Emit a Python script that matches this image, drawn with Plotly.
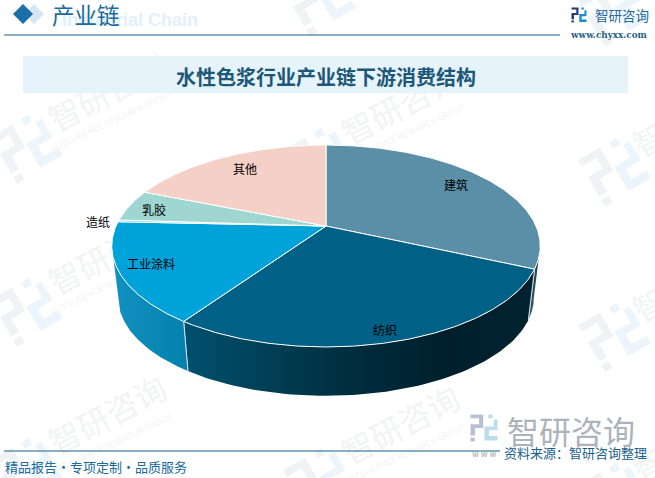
import numpy as np
import plotly.graph_objects as go

# ---- data ----
categories = ["建筑", "纺织", "工业涂料", "造纸", "乳胶", "其他"]
shares = [31.7, 27.9, 16.1, 0.3, 5.1, 18.9]
top_colors = ["#5b8fa8", "#006085", "#00a2da", "#6cc7e8", "#a0d6d2", "#f5d0c7"]
side_grad = [["#3b5f70", "#1f3a47"],
             ["#00506f", "#003e55", "#002c3c", "#001f2c", "#00222f"],
             ["#1192c2", "#0480ac"],
             ["#4aa5c5", "#4aa5c5"], ["#7fb0ad", "#7fb0ad"], ["#c9aaa3", "#c9aaa3"]]
label_xy = {"建筑": (456, 184), "纺织": (385, 329), "工业涂料": (151, 263),
            "造纸": (98, 221), "乳胶": (154, 209), "其他": (245, 168)}

# ---- perspective disc geometry ----
K = 0.198
def project(theta_deg, r=1.0, cx=326.0, cy=226.0, R=210.0, A=97.0):
    t = np.radians(theta_deg)
    u, v = r * np.sin(t), r * np.cos(t)
    w = 1 + K * v
    return cx + R * u / w, cy - A * v / w
def project_low(theta_deg):
    return project(theta_deg, 1.0, 326.0, 278.6, 203.7, 94.0)

edges = np.concatenate([[0], np.cumsum(shares) * 3.6])
fig = go.Figure()

# sides: only the part between the silhouette's left and right extremes is visible
SIDE_FROM = float(np.degrees(np.arccos(-K)))
SIDE_TO = 360.0 - SIDE_FROM
for i, c in enumerate(categories):
    a, b = max(edges[i], SIDE_FROM), min(edges[i + 1], SIDE_TO)
    if b <= a:
        continue
    th = np.linspace(a, b, 80)
    xt, yt = project(th)
    xb, yb = project_low(th[::-1])
    g = side_grad[i]
    fig.add_trace(go.Scatter(
        x=np.r_[xt, xb, xt[0]], y=np.r_[yt, yb, yt[0]], mode="lines", fill="toself",
        line=dict(width=0, color="rgba(0,0,0,0)"),
        fillgradient=dict(type="horizontal",
                          colorscale=[[j / (len(g) - 1), col] for j, col in enumerate(g)]),
        hoverinfo="skip", showlegend=False))
    for e in (edges[i], edges[i + 1]):
        if SIDE_FROM < e < SIDE_TO:
            x0, y0 = project(e)
            x1, y1 = project_low(e)
            fig.add_trace(go.Scatter(x=[x0, x1], y=[y0, y1], mode="lines",
                                     line=dict(color="rgba(225,235,240,0.85)", width=1),
                                     hoverinfo="skip", showlegend=False))
# top slices
for i, c in enumerate(categories):
    th = np.linspace(edges[i], edges[i + 1], 160)
    x, y = project(th)
    ax, ay = project(0.0, 0.0)
    fig.add_trace(go.Scatter(
        x=np.r_[ax, x, ax], y=np.r_[ay, y, ay], mode="lines", fill="toself",
        fillcolor=top_colors[i], line=dict(color="white", width=1),
        hoverinfo="skip", showlegend=False, name=c))

# ---- decorations ----
shapes, ann = [], []

def logo_paths(cx, cy, size, angle):
    a = np.radians(angle)
    def P(pts):
        out = []
        for j, (px, py) in enumerate(pts):
            lx, ly = (px - .5) * size, (py - .5) * size
            X = cx + lx * np.cos(a) - ly * np.sin(a)
            Y = cy + lx * np.sin(a) + ly * np.cos(a)
            out.append(("M" if j == 0 else "L") + f"{X:.1f},{Y:.1f}")
        return " ".join(out) + " Z"
    left = [[(0, 0), (.47, 0), (.47, .5), (.17, .5), (.17, .78), (0, .78), (0, .36), (.32, .36), (.32, .14), (0, .14)],
            [(0, .86), (.16, .86), (.16, 1), (0, 1)]]
    right = [[(.66, 0), (.82, 0), (.82, .14), (.66, .14)],
             [(.86, .18), (1, .18), (1, .58), (.68, .58), (.68, .8), (1, .8), (1, .96), (.52, .96), (.52, .44), (.86, .44)]]
    return [P(p) for p in left], [P(p) for p in right]

def add_logo(cx, cy, size, angle, c1, c2, layer="below"):
    l, r = logo_paths(cx, cy, size, angle)
    for p in l:
        shapes.append(dict(type="path", path=p, fillcolor=c1, line_width=0, layer=layer))
    for p in r:
        shapes.append(dict(type="path", path=p, fillcolor=c2, line_width=0, layer=layer))

def wm_text(cx, cy, text, size, color, angle=-28):
    shapes.append(dict(type="rect", x0=cx - 1, x1=cx + 1, y0=cy - 1, y1=cy + 1, line_width=0,
                       fillcolor="rgba(0,0,0,0)", layer="below",
                       label=dict(text=text, textangle=angle, textposition="middle center",
                                  font=dict(size=size, color=color, family="Noto Sans CJK SC"))))

for lx, ly in [(27, 147), (27, 310), (27, 470), (320, 0), (320, 160), (320, 320), (320, 480),
               (615, 10), (615, 170), (615, 335), (615, 495)]:
    add_logo(lx, ly, 54, -30, "#eff3f6", "#ebf5fb")
    if lx < 600 and ly > 50:
        wm_text(lx + 82, ly - 52, "智研咨询", 32, "#f2f3f5")
        wm_text(lx + 84, ly - 25, "INTELLIGENCE RESEARCH GROUP", 8.5, "#f2f3f5", -25)
    elif lx > 600:
        wm_text(lx + 36, ly - 27, "智", 32, "#f2f3f5")

# title band
shapes.append(dict(type="rect", x0=23, x1=628, y0=56, y1=93, fillcolor="#e6f3fb", line_width=0, layer="below"))
# header
shapes.append(dict(type="path", path="M34,4 L44,14 L34,24 L24,14 Z", fillcolor="#d5e6f2", line_width=0, layer="below"))
shapes.append(dict(type="path", path="M23,4 L33,14 L23,24 L13,14 Z", fillcolor="#1a6fa8", line_width=0, layer="below"))
shapes.append(dict(type="line", x0=4, x1=560, y0=35, y1=35, line=dict(color="#1b5f85", width=1), layer="below"))
shapes.append(dict(type="line", x0=4, x1=500, y0=451, y1=451, line=dict(color="#1b5f85", width=1), layer="below"))
add_logo(579, 15, 15, 0, "#25397f", "#1f8ad2")
add_logo(484, 428, 27, 0, "#b7c0d4", "#bcdcf0")

def T(x, y, s, size, color, family="Noto Sans CJK SC", anchor="center", bold=False):
    ann.append(dict(x=x, y=y, text=f"<b>{s}</b>" if bold else s, showarrow=False, xanchor=anchor,
                    yanchor="middle", xref="x", yref="y",
                    font=dict(size=size, color=color, family=family)))

T(60, 20, "Industrial Chain", 18, "#e2f0fa", "Liberation Sans", "left", True)
T(50, 14, "产业链", 22.5, "#1a6a9c", anchor="left")
T(593, 15, "智研咨询", 13.5, "#1f6a9a", anchor="left")
T(609, 35, "www.chyxx.com", 8.8, "#1f5f85", "DejaVu Serif", bold=True)
T(325.5, 76, "水性色浆行业产业链下游消费结构", 20, "#1d5878", bold=True)
T(3, 466, "精品报告·专项定制·品质服务", 13, "#1a6a9c", anchor="left")
T(571, 430, "智研咨询", 32, "#adb3ba")
T(470, 453, "w w w", 8, "#b9bec4", anchor="left", bold=True)
T(575, 452, "资料来源：智研咨询整理", 13, "#1a5f8a")
for c in categories:
    lx, ly = label_xy[c]
    T(lx, ly, c, 12, "#000000")

fig.update_layout(
    width=655, height=478, margin=dict(l=0, r=0, t=0, b=0),
    paper_bgcolor="white", plot_bgcolor="white", showlegend=False,
    xaxis=dict(range=[0, 655], visible=False, fixedrange=True),
    yaxis=dict(range=[478, 0], visible=False, fixedrange=True),
    shapes=shapes, annotations=ann,
)
fig.write_html("out.html", post_script="document.body.style.margin='0';document.body.style.overflow='hidden';",
               config={"displayModeBar": False})
